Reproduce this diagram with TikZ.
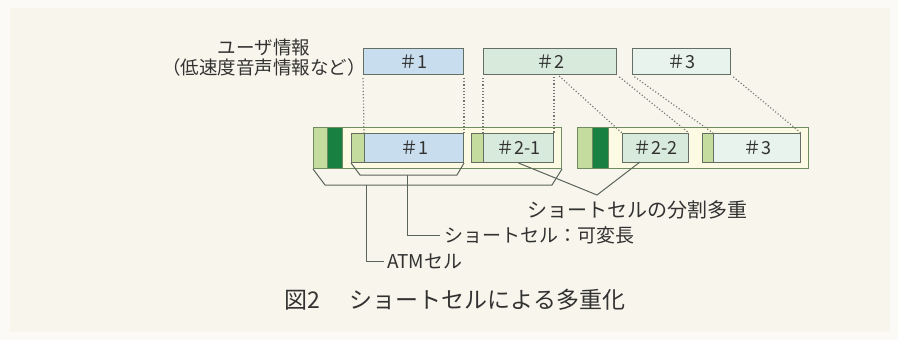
\documentclass[tikz,border=0pt]{standalone}
\usepackage{fontspec}
\setmainfont{Noto Sans CJK JP}
\definecolor{bgout}{RGB}{251,250,246}
\definecolor{bgin}{RGB}{248,246,236}
\definecolor{blueF}{RGB}{200,222,238}
\definecolor{greenF}{RGB}{216,234,220}
\definecolor{paleF}{RGB}{232,243,237}
\definecolor{lightG}{RGB}{196,220,158}
\definecolor{darkG}{RGB}{24,128,64}
\definecolor{cellF}{RGB}{252,250,226}
\definecolor{boxLine}{RGB}{100,110,100}
\definecolor{atmLine}{RGB}{110,140,95}
\definecolor{conLine}{RGB}{90,100,90}
\definecolor{dotLine}{RGB}{115,115,115}
\definecolor{txt}{RGB}{50,50,50}
\begin{document}
\begin{tikzpicture}[x=1pt,y=-1pt,
  blk/.style={draw=boxLine, line width=1pt, inner sep=0pt, anchor=north west,
    text=txt, font=\fontsize{18}{18}\selectfont},
  atmcell/.style={draw=atmLine, line width=1pt, inner sep=0pt, anchor=north west, fill=cellF},
  hdr/.style={draw=atmLine, line width=0.9pt, inner sep=0pt, anchor=north west},
  dotcon/.style={draw=dotLine, line width=1.2pt, dash pattern=on 1.1pt off 2.1pt, shorten <=3pt},
  con/.style={draw=conLine, line width=1pt},
  lbl/.style={inner sep=0pt, text=txt, font=\fontsize{19}{19}\selectfont}
]
\useasboundingbox (0,0) rectangle (898,340);
\fill[bgout] (0,0) rectangle (898,340);
\fill[bgin] (10,8) rectangle (890,332);

% user info label
\node[inner sep=0pt, text=txt, align=center, font=\fontsize{18.5}{20}\selectfont] (ui) at (264,58)
  {ユーザ情報\\（低速度音声情報など）};

% top boxes
\node[blk, fill=blueF, minimum width=100pt, minimum height=26pt] (t1) at (363,48) {＃1};
\node[blk, fill=greenF, minimum width=133pt, minimum height=26pt] (t2) at (483,48) {＃2};
\node[blk, fill=paleF, minimum width=98pt, minimum height=26pt] (t3) at (632,48) {＃3};

% ATM cells
\node[atmcell, minimum width=248pt, minimum height=41pt] (a1) at (313,127) {};
\node[hdr, fill=lightG, minimum width=14pt, minimum height=41pt] (a1h) at (313,127) {};
\node[hdr, fill=darkG, minimum width=15pt, minimum height=41pt] (a1d) at (327,127) {};
\node[atmcell, minimum width=231pt, minimum height=41pt] (a2) at (577,127) {};
\node[hdr, fill=lightG, minimum width=15pt, minimum height=41pt] (a2h) at (577,127) {};
\node[hdr, fill=darkG, minimum width=16pt, minimum height=41pt] (a2d) at (592,127) {};

% short cells
\node[blk, fill=lightG, minimum width=13pt, minimum height=29pt] (h1) at (351,133) {};
\node[blk, fill=blueF, minimum width=99pt, minimum height=29pt] (p1) at (364,133) {＃1};
\node[blk, fill=lightG, minimum width=12pt, minimum height=29pt] (h21) at (471,133) {};
\node[blk, fill=greenF, minimum width=70pt, minimum height=29pt] (p21) at (483,133) {＃2-1};
\node[blk, fill=greenF, minimum width=66pt, minimum height=29pt] (p22) at (622,133) {＃2-2};
\node[blk, fill=lightG, minimum width=11pt, minimum height=29pt] (h3) at (702,133) {};
\node[blk, fill=paleF, minimum width=87pt, minimum height=29pt] (p3) at (713,133) {＃3};

% dotted mapping lines
\coordinate (t2m) at (554,74);
\coordinate (t2n) at (557,74);
\draw[dotcon] (t1.south west) -- (p1.north west);
\draw[dotcon] (t1.south east) -- (p1.north east);
\draw[dotcon] (t2.south west) -- (p21.north west);
\draw[dotcon] (t2m) -- (p21.north east);
\draw[dotcon] (t2n) -- (p22.north west);
\draw[dotcon] (t2.south east) -- (p22.north east);
\draw[dotcon] (t3.south west) -- (p3.north west);
\draw[dotcon] (t3.south east) -- (p3.north east);

% labels
\node[lbl, anchor=west] (l2) at (444,235) {ショートセル：可変長};
\node[lbl, anchor=west] (l3) at (387,261) {ATMセル};
\node[lbl, anchor=center, font=\fontsize{20}{20}\selectfont] (l4) at (637,210) {ショートセルの分割多重};
\node[inner sep=0pt, text=txt, anchor=west, font=\fontsize{23}{23}\selectfont] (cap) at (284,300)
  {図2\hspace{30pt}ショートセルによる多重化};

% brackets
\coordinate (b1l) at (360,175);
\coordinate (b1r) at (457,175);
\coordinate (b1s) at (407,175);
\coordinate (b2l) at (325,185);
\coordinate (b2r) at (552,185);
\coordinate (b2s) at (366,185);
\draw[con] (h1.south west) -- (b1l) -- (b1r) -- (p1.south east);
\draw[con] (a1.south west) -- (b2l) -- (b2r) -- (a1.south east);
\draw[con] (b1s) |- ([xshift=-4pt]l2.west);
\draw[con] (b2s) |- ([xshift=-3pt]l3.west);

% split lines
\coordinate (v) at (597,195);
\coordinate (p22b) at (640,162);
\draw[con] (p21.south) -- (v) -- (p22b);
\end{tikzpicture}
\end{document}
